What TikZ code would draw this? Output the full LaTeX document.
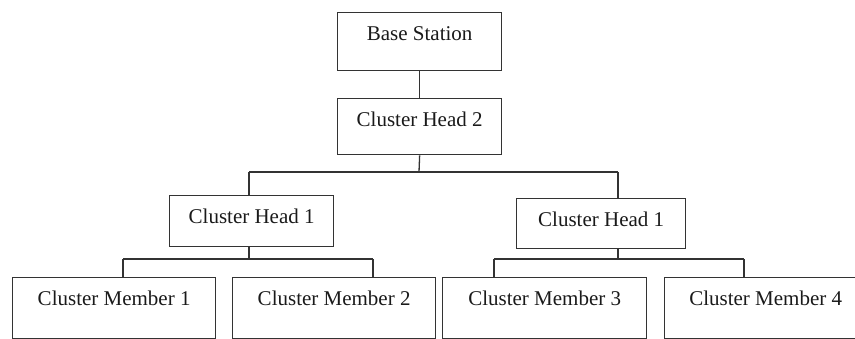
\documentclass[tikz,border=0pt]{standalone}
\usepackage{fontspec}
\setmainfont{Liberation Serif}
\definecolor{linec}{HTML}{333333}
\definecolor{textc}{HTML}{1A1A1A}
\begin{document}
\begin{tikzpicture}[x=1pt,y=-1pt,
  bx/.style 2 args={draw=linec, line width=1.3pt, inner sep=0pt, anchor=north west,
    minimum width=#1, text height=27.5pt, text depth=#2, text=textc,
    font=\fontsize{21}{24}\selectfont},
  conn/.style={draw=linec, line width=1.3pt}]
\useasboundingbox (0,0) rectangle (855,338);
\clip (0,0) rectangle (855,338);
\node[bx={164pt}{30.5pt}] (bs) at (337,12) {Base Station};
\node[bx={164pt}{28.5pt}] (ch2) at (337,98) {Cluster Head 2};
\node[bx={164pt}{23pt}] (ch1l) at (169,195) {Cluster Head 1};
\node[bx={169pt}{22.5pt}] (ch1r) at (516,198) {Cluster Head 1};
\node[bx={203pt}{33pt}] (cm1) at (12,277) {Cluster Member 1};
\node[bx={203pt}{33pt}] (cm2) at (232,277) {Cluster Member 2};
\node[bx={204pt}{33pt}] (cm3) at (442,277) {Cluster Member 3};
\node[bx={202pt}{33pt}] (cm4) at (664,277) {Cluster Member 4};
\coordinate (b0) at (419,172);
\coordinate (bl) at (249,172);
\coordinate (br) at (618,172);
\coordinate (l0) at (249,259);
\coordinate (l1) at (123,259);
\coordinate (l2) at (373,259);
\coordinate (r0) at (618,259);
\coordinate (r1) at (494,259);
\coordinate (r2) at (744,259);
\draw[conn] (bs.south) -- (ch2.north);
\draw[conn] (ch2.south) -- (b0);
\draw[conn] (bl) -- (br);
\draw[conn] (bl) -- (bl |- ch1l.north);
\draw[conn] (br) -- (br |- ch1r.north);
\draw[conn] (l0 |- ch1l.south) -- (l0);
\draw[conn] (l1) -- (l2);
\draw[conn] (l1) -- (l1 |- cm1.north);
\draw[conn] (l2) -- (l2 |- cm2.north);
\draw[conn] (r0 |- ch1r.south) -- (r0);
\draw[conn] (r1) -- (r2);
\draw[conn] (r1) -- (r1 |- cm3.north);
\draw[conn] (r2) -- (r2 |- cm4.north);
\end{tikzpicture}
\end{document}
